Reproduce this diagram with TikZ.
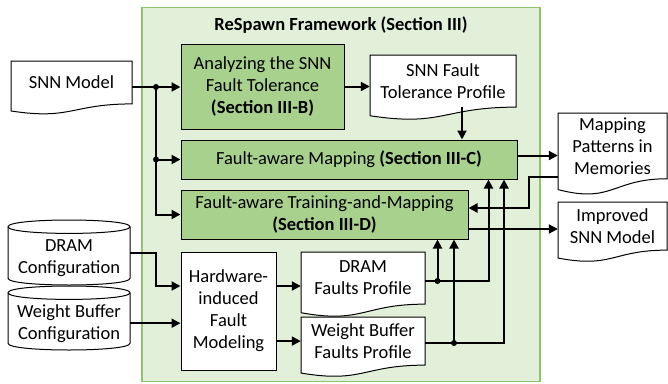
\documentclass[tikz,border=0pt]{standalone}
\usepackage{fontspec}
\setmainfont{Carlito}
\usetikzlibrary{arrows.meta,calc}
\definecolor{framefill}{HTML}{E2F0D9}
\definecolor{frameline}{HTML}{8FC46C}
\definecolor{boxgreen}{HTML}{A9D18E}
\newcommand{\docnode}[6]{%
  \pgfmathsetmacro\dnR{#2+#4}%
  \pgfmathsetmacro\dnM{#2+#4/2}%
  \pgfmathsetmacro\dnYr{#3+0.802*#5}%
  \pgfmathsetmacro\dnYl{#3+0.934*#5}%
  \pgfmathsetmacro\dnYc{#3+1.1075*#5}%
  \pgfmathsetmacro\dnYt{#3+0.401*#5}%
  \pgfmathsetmacro\dnH{0.802*#5}%
  \draw[whitebox] (#2,#3) -- (\dnR,#3) -- (\dnR,\dnYr) .. controls (\dnM,\dnYr) and (\dnM,\dnYc) .. (#2,\dnYl) -- cycle;
  \node[minimum width=#4, minimum height=\dnH] (#1) at (\dnM,\dnYt) {#6};
}
\newcommand{\cylnode}[7]{%
  \pgfmathsetmacro\cyA{#3+#6}%
  \pgfmathsetmacro\cyB{#5-#6}%
  \pgfmathsetmacro\cyAu{#3+#6-4/3*#6}%
  \pgfmathsetmacro\cyAd{#3+#6+4/3*#6}%
  \pgfmathsetmacro\cyBd{#5-#6+4/3*#6}%
  \pgfmathsetmacro\cyX{(#2+#4)/2}%
  \pgfmathsetmacro\cyT{(#3+2*#6+#5)/2-1.5}%
  \pgfmathsetmacro\cyW{#4-#2}%
  \draw[whitebox] (#2,\cyA) -- (#2,\cyB) .. controls (#2,\cyBd) and (#4,\cyBd) .. (#4,\cyB) -- (#4,\cyA) .. controls (#4,\cyAu) and (#2,\cyAu) .. (#2,\cyA) -- cycle;
  \draw[line width=1pt] (#2,\cyA) .. controls (#2,\cyAd) and (#4,\cyAd) .. (#4,\cyA);
  \node[minimum width=\cyW] (#1) at (\cyX,\cyT) {#7};
}
\begin{document}
\begin{tikzpicture}[x=1pt,y=-1pt,
  every node/.style={font=\fontsize{18.5}{22}\selectfont, align=center, inner sep=0pt},
  greenbox/.style={draw=black, fill=boxgreen, line width=1pt},
  whitebox/.style={draw=black, fill=white, line width=1pt},
  conn/.style={line width=2pt, -{Triangle[length=9pt,width=9pt]}},
  dot/.style={circle, fill=black, minimum size=6pt, inner sep=0pt}]
\useasboundingbox (0,0) rectangle (668,383);

% framework frame
\node[draw=frameline, fill=framefill, line width=1.5pt, minimum width=398, minimum height=374] (frame) at (341,194.5) {};
\node[font=\fontsize{18.5}{22}\selectfont\bfseries] (title) at (341,25) {ReSpawn Framework (Section III)};

% green boxes
\node[greenbox, minimum width=163, minimum height=85] (ana) at (262.5,86.5) {Analyzing the SNN\\Fault Tolerance\\\textbf{(Section III-B)}};
\node[greenbox, minimum width=336, minimum height=39] (map) at (349,159.5) {Fault-aware Mapping \textbf{(Section III-C)}};
\node[greenbox, minimum width=287, minimum height=49] (train) at (324.5,214.5) {Fault-aware Training-and-Mapping\\\textbf{(Section III-D)}};
\node[whitebox, minimum width=95, minimum height=118] (hw) at (228.5,311) {Hardware-\\induced\\Fault\\Modeling};

% documents
\docnode{snn}{11}{61}{121}{53.5}{SNN Model}
\docnode{ftp}{370}{55}{146}{65}{SNN Fault\\Tolerance Profile}
\docnode{mpp}{558}{113}{109}{82}{Mapping\\Patterns in\\Memories}
\docnode{imp}{558}{202}{109}{60}{Improved\\SNN Model}
\docnode{dfp}{301}{252}{124}{65}{DRAM\\Faults Profile}
\docnode{wfp}{301}{317}{124}{60}{Weight Buffer\\Faults Profile}

% cylinders
\cylnode{dcfg}{8}{220}{130}{285}{6.7}{DRAM\\Configuration}
\cylnode{wcfg}{8}{286}{130}{350}{6.7}{Weight Buffer\\Configuration}

% connectors
\coordinate (j1) at (156,87);
\coordinate (j2) at (156,159.5);
\draw[conn] (snn.east |- j1) -- (j1 -| ana.west);
\draw[conn] (j2) -- (map.west);
\draw[conn] (j1) |- (train.west);
\node[dot] (dt1) at (j1) {};
\node[dot] (dt2) at (j2) {};

\draw[conn] (ana.east) -- (ana.east -| ftp.west);
\coordinate (f1) at ([xshift=19pt]ftp.south);
\draw[conn] (f1) -- (f1 |- map.north);

\coordinate (m1) at ([yshift=4pt]map.east);
\draw[conn] (m1) -- (m1 -| mpp.west);

\coordinate (m2) at ([yshift=2pt]mpp.south west);
\coordinate (k) at (529,208);
\draw[conn] (m2) -| (k) -- (k -| train.east);

\coordinate (t1) at ([yshift=-14.5pt]train.east);
\draw[conn] (t1) -- (t1 -| imp.west);

\coordinate (c1) at ([yshift=4.5pt]dcfg.east);
\coordinate (k2) at (156,286);
\draw[conn] (c1) -| (k2) -- (k2 -| hw.west);
\draw[conn] (wcfg.east) -- (wcfg.east -| hw.west);

\draw[conn] (k2 -| hw.east) -- (k2 -| dfp.west);
\draw[conn] (hw.east |- wfp.west) -- (wfp.west);

\coordinate (d1) at (437.5,281);
\coordinate (d2) at (488.5,281);
\draw[conn] (d1 -| dfp.east) -- (d2) -- (d2 |- map.south);
\draw[conn] (d1) -- (d1 |- train.south);
\node[dot] (dt3) at (d1) {};

\coordinate (e1) at (454,343);
\coordinate (e2) at (504,343);
\draw[conn] (e1 -| wfp.east) -- (e2) -- (e2 |- map.south);
\draw[conn] (e1) -- (e1 |- train.south);
\node[dot] (dt4) at (e1) {};
\end{tikzpicture}
\end{document}
